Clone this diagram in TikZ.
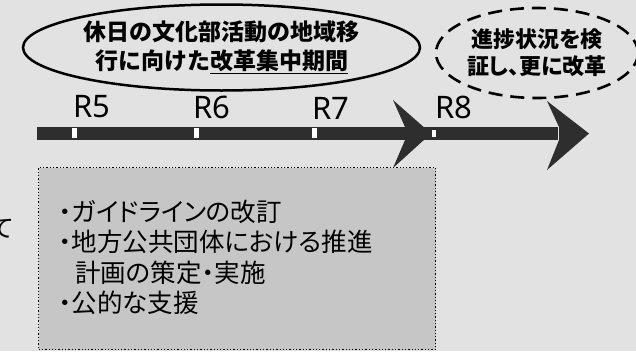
\documentclass[tikz,border=0pt]{standalone}
\usepackage{fontspec}
\newfontfamily\cjk{Noto Sans CJK JP}
\newfontfamily\cjkp[RawFeature=+palt]{Noto Sans CJK JP}
\newfontfamily\latinsans{Noto Sans}
\usetikzlibrary{shapes.geometric}
\definecolor{bggray}{HTML}{E2E2E2}
\definecolor{boxgray}{HTML}{C6C6C6}
\definecolor{bardark}{HTML}{2E2E2E}
\tikzset{
  yearlabel/.style={font=\latinsans\fontsize{31}{31}\selectfont, inner sep=0pt},
  tick/.style={fill=white, draw=none},
  arrowbody/.style={fill=bardark, draw=none},
}
\begin{document}
\begin{tikzpicture}[x=1pt,y=-1pt]
\useasboundingbox (0,0) rectangle (636,351);
\clip (0,0) rectangle (636,351);
\fill[bggray] (0,0) rectangle (636,351);

% bar with two arrowheads
\fill[arrowbody] (37,127) rectangle (558,140);
\fill[arrowbody] (393,100) -- (431,133.5) -- (393,168) -- (405,140) -- (405,127) -- cycle;
\fill[arrowbody] (547,101) -- (589,133.5) -- (547,170) -- (559,140) -- (559,127) -- cycle;
\fill[tick] (72,128) rectangle (77,138);
\fill[tick] (194,128) rectangle (199,138);
\fill[tick] (312,128) rectangle (317,138);
\fill[tick] (432,130) rectangle (436,137);

% year labels
\node[yearlabel] (r5) at (92,107) {R5};
\node[yearlabel] (r6) at (212,107) {R6};
\node[yearlabel] (r7) at (331,108) {R7};
\node[yearlabel] (r8) at (454,107) {R8};

% solid ellipse
\node[ellipse, draw=black, line width=2.5pt, minimum width=397pt, minimum height=86pt,
      inner sep=0pt, align=center, font=\cjk\bfseries\fontsize{23}{29}\selectfont]
  (period) at (221.5,47.5) {休日の文化部活動の地域移\\行に向けた\underline{改革集中期間}};

% dashed ellipse
\node[ellipse, draw=black, line width=2.6pt, dash pattern=on 14pt off 8pt,
      minimum width=202pt, minimum height=90pt, inner sep=0pt, align=center,
      font=\cjkp\bfseries\fontsize{22}{27}\selectfont]
  (review) at (537,53) {進捗状況を検\\証し、更に改革};

% measures box
\node[draw=black, dotted, line width=1.3pt, fill=boxgray, minimum width=397pt,
      minimum height=182pt, inner sep=0pt, anchor=north west] (box) at (38,167) {};
\node[anchor=west, inner sep=0pt, align=left, font=\cjkp\fontsize{25.5}{30.5}\selectfont]
  (measures) at (59,257.5) {・ガイドラインの改訂\\・地方公共団体における推進\\\hspace*{16pt}計画の策定・実施\\・公的な支援};

% cut-off character at the left edge
\node[anchor=east, inner sep=0pt, font=\cjk\fontsize{25}{25}\selectfont] (te) at (15,229) {て};
\end{tikzpicture}
\end{document}
